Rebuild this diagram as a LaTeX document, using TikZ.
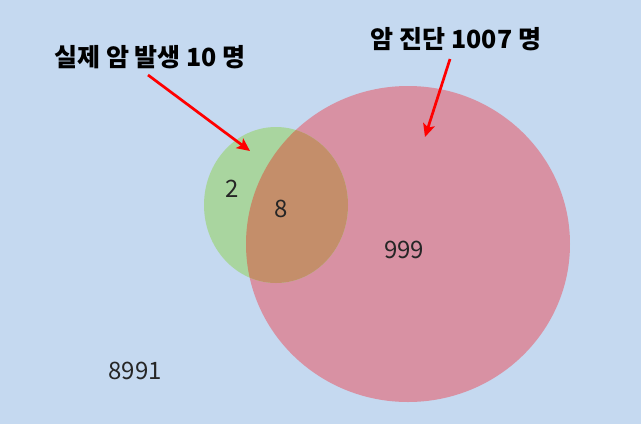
\documentclass[tikz,border=0pt]{standalone}
\usepackage{fontspec}
\setmainfont{Noto Sans CJK KR}
\usetikzlibrary{arrows.meta}
\definecolor{bgblue}{HTML}{C5D9F0}
\definecolor{vgreen}{HTML}{A9D59F}
\definecolor{vpink}{HTML}{D891A3}
\definecolor{vover}{HTML}{C48E6A}
\definecolor{arrred}{HTML}{FF0000}
\tikzset{
  num/.style={font=\fontsize{24}{26}\selectfont, text=black!85, inner sep=0pt},
  lbl/.style={font=\fontsize{25}{28}\selectfont\bfseries, text=black, inner sep=0pt},
  redarrow/.style={draw=arrred, line width=2.7pt, -{Stealth[length=13pt,width=12pt,inset=3pt]}}
}
\begin{document}
\begin{tikzpicture}[x=1pt,y=-1pt]
\useasboundingbox (0,0) rectangle (641,424);
\fill[bgblue] (0,0) rectangle (641,424);
% circles
\fill[vpink] (408,244) ellipse [x radius=162, y radius=158];
\fill[vgreen] (276,205) ellipse [x radius=72, y radius=78];
\begin{scope}
  \clip (276,205) ellipse [x radius=72, y radius=78];
  \fill[vover] (408,244) ellipse [x radius=162, y radius=158];
\end{scope}
% numbers
\node[num] (n2) at (232,189) {2};
\node[num] (n8) at (281,209) {8};
\node[num] (n999) at (404,250) {999};
\node[num] (n8991) at (135,371) {8991};
% labels
\node[lbl] (l1) at (150,57) {실제 암 발생 10 명};
\node[lbl] (l2) at (456,39) {암 진단 1007 명};
\coordinate (t1) at (250,151);
\coordinate (t2) at (425,137);
\draw[redarrow] (148,75) -- (t1);
\draw[redarrow] (450,59) -- (t2);
\end{tikzpicture}
\end{document}
